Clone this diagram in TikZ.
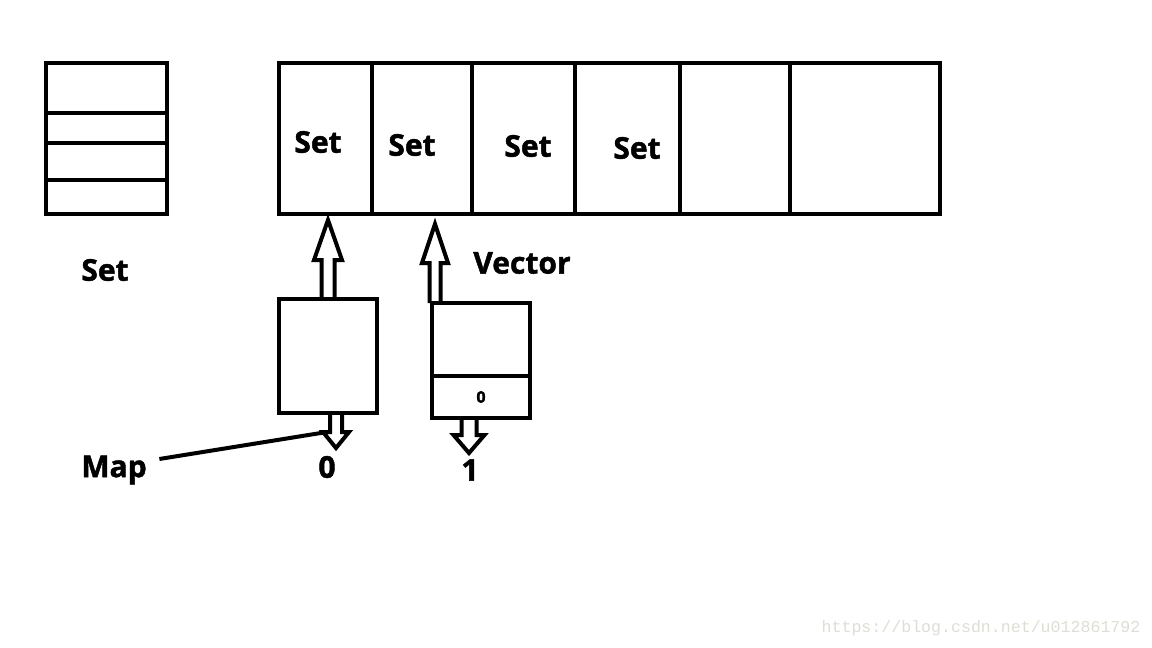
\documentclass[tikz,border=0pt]{standalone}
\usepackage{fontspec}
\setmainfont{Open Sans}[BoldFeatures={FakeBold=1.5}]
\newfontfamily\wmfont{Liberation Mono}
\usetikzlibrary{positioning,calc}
\definecolor{wmgray}{RGB}{222,222,214}

\tikzset{
  box/.style={draw, line width=4.5pt, outer sep=0pt, inner sep=0pt},
  lbl/.style={font=\fontsize{30}{36}\selectfont\bfseries, inner sep=0pt},
  arrowline/.style={draw, line width=4pt},
}
% hollow block arrow: base, tip, shaft half width, head half width, head length
\newcommand\hollowarrow[5]{%
  \path ($(#2)!#5!(#1)$) coordinate (hb);
  \draw[arrowline] ($(#1)!#3!90:(#2)$) -- ($(hb)!#3!90:(#2)$) -- ($(hb)!#4!90:(#2)$)
    -- (#2) -- ($(hb)!#4!-90:(#2)$) -- ($(hb)!#3!-90:(#2)$) -- ($(#1)!#3!-90:(#2)$);}

\begin{document}
\begin{tikzpicture}[x=1pt, y=-1pt]
        \fill[white] (0,0) rectangle (1152,648);
        \useasboundingbox (0,0) rectangle (1152,648);
        % set drawn as a stack
        \node[box, minimum width=121pt, minimum height=50pt] (st1) at (106.5,88) {};
        \node[box, minimum width=121pt, minimum height=30pt, below=0pt of st1] (st2) {};
        \node[box, minimum width=121pt, minimum height=37pt, below=0pt of st2] (st3) {};
        \node[box, minimum width=121pt, minimum height=34pt, below=0pt of st3] (st4) {};
        \node[lbl] (setlbl) at (105,270) {Set};
        % the vector of sets
        \node[box, minimum width=93pt, minimum height=151pt] (cell1) at (325.5,138.5) {};
        \node[box, minimum width=100pt, minimum height=151pt, right=0pt of cell1] (cell2) {};
        \node[box, minimum width=103pt, minimum height=151pt, right=0pt of cell2] (cell3) {};
        \node[box, minimum width=105pt, minimum height=151pt, right=0pt of cell3] (cell4) {};
        \node[box, minimum width=110pt, minimum height=151pt, right=0pt of cell4] (cell5) {};
        \node[box, minimum width=150pt, minimum height=151pt, right=0pt of cell5] (cell6) {};
        \node[lbl] (set1) at (318,142) {Set};
        \node[lbl] (set2) at (412,145) {Set};
        \node[lbl] (set3) at (528,146) {Set};
        \node[lbl] (set4) at (637,148) {Set};
        \node[lbl] (veclbl) at (522,263) {Vector};
        % map and vector entries
        \node[box, minimum width=98pt, minimum height=114pt] (map) at (328,356) {};
        \node[box, minimum width=98pt, minimum height=73pt] (vectop) at (481,339.5) {};
        \node[box, minimum width=98pt, minimum height=42pt, below=0pt of vectop,
              font=\fontsize{16}{18}\selectfont\bfseries] (vecbot) {0};
        \node[lbl] (zero) at (327,467) {0};
        \node[lbl] (one) at (470,470) {1};
        \node[lbl] (maplbl) at (114,470) {Map};
        % arrows
        \coordinate (up1tip) at ($(map.north |- cell1.south)+(0,6)$);
        \hollowarrow{map.north}{up1tip}{6.5pt}{14pt}{40pt}
        \coordinate (up2base) at ($(vectop.north west)+(3,0)$);
        \coordinate (up2tip) at ($(up2base |- cell2.south)+(0,10)$);
        \hollowarrow{up2base}{up2tip}{5.5pt}{13pt}{39pt}
        \coordinate (dn1base) at ($(map.south)+(8,0)$);
        \coordinate (dn1tip) at ($(dn1base)+(0,35)$);
        \hollowarrow{dn1base}{dn1tip}{6pt}{13pt}{16pt}
        \coordinate (dn2base) at ($(vecbot.south)+(-12,0)$);
        \coordinate (dn2tip) at ($(dn2base)+(0,35)$);
        \hollowarrow{dn2base}{dn2tip}{7.5pt}{15.5pt}{18pt}
        \coordinate (mapptr) at ($(map.south)+(-1,19)$);
        \draw[line width=4pt] ($(maplbl.east)+(12.5,-11)$) -- (mapptr);
        \node[font=\wmfont\fontsize{16.6}{18}\selectfont, text=wmgray, inner sep=0pt] (wm) at (981,628) {https://blog.csdn.net/u012861792};
\end{tikzpicture}
\end{document}
